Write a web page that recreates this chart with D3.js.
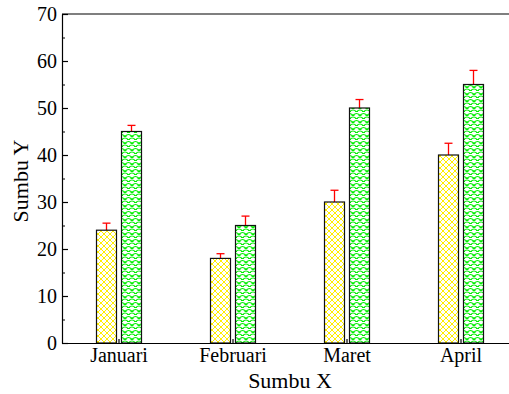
<!DOCTYPE html>
<html>
<head>
<meta charset="utf-8">
<script src="https://cdn.jsdelivr.net/npm/d3@7"></script>
<style>
  body { margin: 0; background: #fff; }
  svg text { font-family: "Liberation Serif", "Times New Roman", serif; fill: #000; }
</style>
</head>
<body>
<div id="chart"></div>
<script>
// data
const categories = ['Januari', 'Februari', 'Maret', 'April'];
const seriesNames = ['A', 'B'];
const valuesA = [24, 18, 30, 40];
const valuesB = [45, 25, 50, 55];
const errorsA = [1.5, 1, 2.5, 2.5];
const errorsB = [1.3, 2, 1.8, 3];
const yTicks = [0, 10, 20, 30, 40, 50, 60, 70];
const yMinorTicks = [5, 15, 25, 35, 45, 55, 65];

const width = 509, height = 394;
const margin = { top: 14, left: 62, bottom: 51 };
const plotRight = 518; // the frame runs off the right edge
const serif = '"Liberation Serif", "Times New Roman", serif';

const svg = d3.select('#chart').append('svg')
    .attr('width', width)
    .attr('height', height);

// hatch patterns
const defs = svg.append('defs');
const pA = defs.append('pattern')
    .attr('id', 'hatchA')
    .attr('patternUnits', 'userSpaceOnUse')
    .attr('width', 6).attr('height', 6);
pA.append('rect').attr('width', 6).attr('height', 6).attr('fill', '#fff');
pA.append('path')
    .attr('d', 'M0,0 L6,6 M6,0 L0,6 M-1,5 L1,7 M5,-1 L7,1 M-1,1 L1,-1 M5,7 L7,5')
    .attr('stroke', '#ffee00').attr('stroke-width', 1).attr('fill', 'none');

const pB = defs.append('pattern')
    .attr('id', 'hatchB')
    .attr('patternUnits', 'userSpaceOnUse')
    .attr('width', 7).attr('height', 7);
pB.append('rect').attr('width', 7).attr('height', 7).attr('fill', '#fff');
pB.append('path')
    .attr('d', 'M0,3.5 Q3.5,-0.5 7,3.5 M-3.5,7 Q0,3 3.5,7 M3.5,7 Q7,3 10.5,7 M0,3.5 L1.5,3.5 M5.5,3.5 L7,3.5 M2,7 L5,7')
    .attr('stroke', '#00ee00').attr('stroke-width', 1.2).attr('fill', 'none');

// scales
const x = d3.scaleBand()
    .domain(categories)
    .range([margin.left, plotRight])
    .paddingInner(0).paddingOuter(0);

const xSub = d3.scaleBand()
    .domain(seriesNames)
    .range([x.bandwidth() / 2 - 22.5, x.bandwidth() / 2 + 22.5])
    .paddingInner(0.2);

const y = d3.scaleLinear()
    .domain([0, 70])
    .range([height - margin.bottom, margin.top]);

const rows = categories.map((c, i) => ({
    cat: c,
    bars: [
        { s: 'A', v: valuesA[i], e: errorsA[i], fill: 'url(#hatchA)' },
        { s: 'B', v: valuesB[i], e: errorsB[i], fill: 'url(#hatchB)' }
    ]
}));

const groups = svg.append('g').attr('class', 'bars')
    .selectAll('g')
    .data(rows)
    .join('g')
    .attr('transform', d => `translate(${x(d.cat)},0)`);

// error bars (upper only)
groups.selectAll('.err')
    .data(d => d.bars)
    .join('g')
    .attr('class', 'err')
    .each(function (d) {
        const cx = xSub(d.s) + xSub.bandwidth() / 2;
        const g = d3.select(this);
        g.append('line')
            .attr('x1', cx).attr('x2', cx)
            .attr('y1', y(d.v)).attr('y2', y(d.v + d.e))
            .attr('stroke', '#ff0000').attr('stroke-width', 1.3);
        g.append('line')
            .attr('x1', cx - 4).attr('x2', cx + 4)
            .attr('y1', y(d.v + d.e)).attr('y2', y(d.v + d.e))
            .attr('stroke', '#ff0000').attr('stroke-width', 1.3);
    });

groups.selectAll('rect')
    .data(d => d.bars)
    .join('rect')
    .attr('x', d => xSub(d.s))
    .attr('y', d => y(d.v))
    .attr('width', xSub.bandwidth())
    .attr('height', d => y(0) - y(d.v))
    .attr('fill', d => d.fill)
    .attr('stroke', '#111')
    .attr('stroke-width', 1.2);

// top frame line
svg.append('line')
    .attr('x1', margin.left).attr('x2', width)
    .attr('y1', y(70)).attr('y2', y(70))
    .attr('stroke', '#000').attr('stroke-width', 1.2);

// y axis, ticks inside
const yAxis = svg.append('g')
    .attr('class', 'axis axis-y')
    .attr('transform', `translate(${margin.left},0)`)
    .call(d3.axisLeft(y).tickValues(yTicks).tickSize(-6).tickPadding(5).tickSizeOuter(0));
svg.append('g')
    .attr('transform', `translate(${margin.left},0)`)
    .call(d3.axisLeft(y).tickValues(yMinorTicks).tickSize(-3).tickFormat('').tickSizeOuter(0))
    .select('.domain').remove();

// x axis
const xAxis = svg.append('g')
    .attr('class', 'axis axis-x')
    .attr('transform', `translate(0,${y(0)})`)
    .call(d3.axisBottom(x).tickSize(-4).tickPadding(5).tickSizeOuter(0));
xAxis.select('.domain').attr('d', `M${margin.left},0.5H${width}`);

svg.selectAll('.axis')
    .attr('font-family', serif)
    .attr('font-size', 20);
svg.selectAll('.axis text')
    .attr('font-family', serif)
    .style('font-family', serif)
    .style('font-size', '20px');
svg.selectAll('.axis path, .axis line')
    .attr('stroke', '#000').attr('stroke-width', 1.2);

// axis titles
svg.append('text')
    .attr('x', (margin.left + plotRight) / 2)
    .attr('y', 388)
    .attr('text-anchor', 'middle')
    .style('font-family', serif)
    .style('font-size', '22px')
    .text('Sumbu X');

svg.append('text')
    .attr('transform', 'translate(28,181) rotate(-90)')
    .attr('text-anchor', 'middle')
    .style('font-family', serif)
    .style('font-size', '22px')
    .text('Sumbu Y');
</script>
</body>
</html>
